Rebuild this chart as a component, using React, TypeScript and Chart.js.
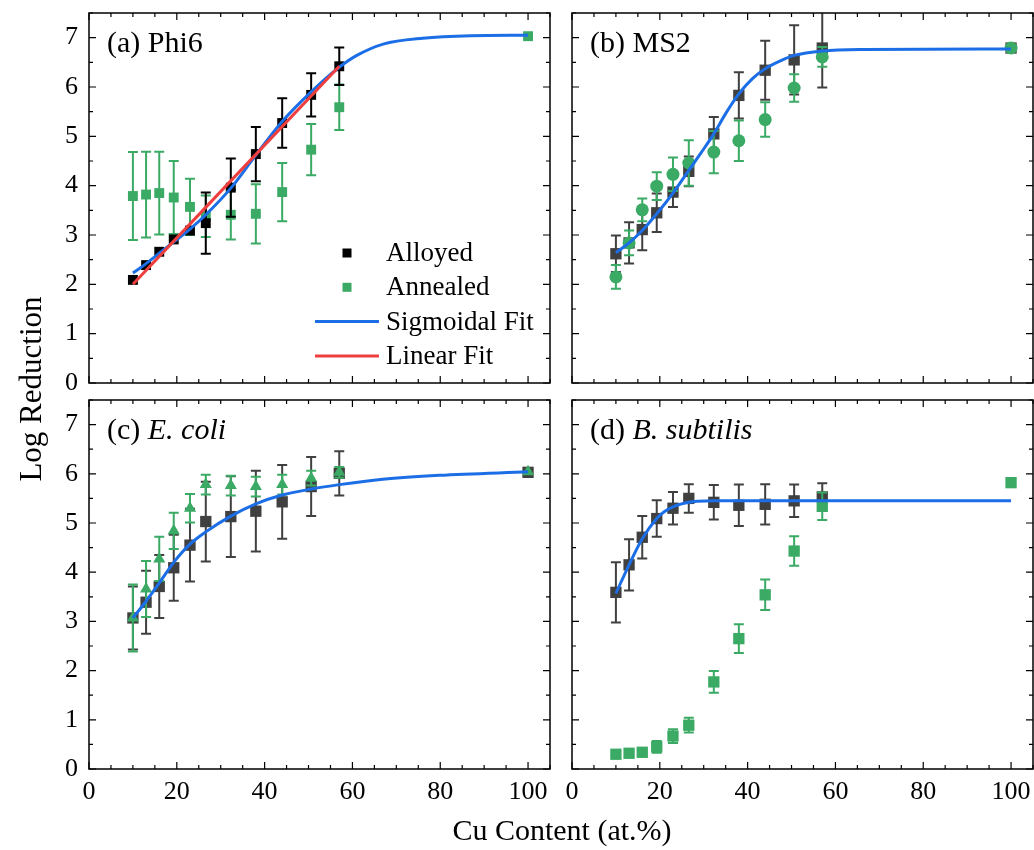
import React, { useEffect, useRef } from 'react';
import { Chart, registerables } from 'chart.js';

Chart.register(...registerables);

const FONT = '"Liberation Serif", "Times New Roman", serif';

// ---- axes ----
const X_TICKS = [0, 20, 40, 60, 80, 100];
const Y_TICKS = [0, 1, 2, 3, 4, 5, 6, 7];
const X_MIN = 0;
const X_MAX = 105;
const Y_MIN = 0;
const Y_MAX = 7.5;
const X_MINOR_STEP = 5;
const Y_MINOR_STEP = 0.5;

// ---- Cu content (at.%) ----
const CU = [10, 13, 16, 19.3, 23, 26.6, 32.3, 38, 44, 50.6, 57, 100];
const CU_NO100 = [10, 13, 16, 19.3, 23, 26.6, 32.3, 38, 44, 50.6, 57];

// ---- (a) Phi6 ----
const PHI6_ALLOYED = [2.09, 2.39, 2.66, 2.91, 3.09, 3.24, 3.96, 4.64, 5.27, 5.84, 6.42];
const PHI6_ALLOYED_ERR = [0, 0, 0, 0, 0, 0.62, 0.59, 0.55, 0.5, 0.44, 0.38];
const PHI6_ANNEALED = [3.79, 3.82, 3.85, 3.76, 3.57, 3.38, 3.41, 3.43, 3.87, 4.73, 5.59, 7.03];
const PHI6_ANNEALED_ERR = [0.89, 0.87, 0.84, 0.74, 0.57, 0.42, 0.5, 0.6, 0.59, 0.52, 0.46, 0];
const PHI6_SIG_X = [10, 13, 16, 19.3, 23, 26.6, 32.3, 38, 44, 50.6, 57, 61, 67, 76, 87, 100];
const PHI6_SIG_Y = [2.23, 2.42, 2.63, 2.86, 3.12, 3.41, 3.95, 4.62, 5.3, 5.9, 6.4, 6.64, 6.87, 6.99, 7.04, 7.05];
const PHI6_LIN_X = [10, 57];
const PHI6_LIN_Y = [2.0, 6.42];

// ---- (b) MS2 ----
const MS2_ALLOYED = [2.62, 2.84, 3.11, 3.45, 3.87, 4.29, 5.05, 5.83, 6.34, 6.55, 6.79, 6.79];
const MS2_ALLOYED_ERR = [0.37, 0.42, 0.42, 0.39, 0.3, 0.3, 0.34, 0.47, 0.6, 0.7, 0.8, 0];
const MS2_ANNEALED = [2.15, 2.84, 3.51, 3.99, 4.23, 4.46, 4.68, 4.91, 5.34, 5.98, 6.61, 6.79];
const MS2_ANNEALED_ERR = [0.24, 0.25, 0.23, 0.28, 0.34, 0.46, 0.43, 0.41, 0.35, 0.28, 0.2, 0];
const MS2_SIG_X = [10, 13, 16, 19.3, 23, 26.6, 29.5, 32.3, 35.2, 38, 41.1, 44, 47.7, 50.6, 57, 66.6, 100];
const MS2_SIG_Y = [2.64, 2.84, 3.09, 3.43, 3.85, 4.31, 4.68, 5.05, 5.49, 5.86, 6.17, 6.37, 6.54, 6.64, 6.73, 6.76, 6.77];

// ---- (c) E. coli ----
const ECOLI_ALLOYED = [3.07, 3.39, 3.71, 4.09, 4.55, 5.03, 5.13, 5.24, 5.43, 5.74, 6.01, 6.03];
const ECOLI_ALLOYED_ERR = [0.64, 0.64, 0.64, 0.67, 0.74, 0.81, 0.82, 0.82, 0.75, 0.6, 0.45, 0];
const ECOLI_ANNEALED = [3.07, 3.66, 4.27, 4.84, 5.3, 5.78, 5.76, 5.74, 5.78, 5.91, 6.03, 6.04];
const ECOLI_ANNEALED_ERR = [0.68, 0.57, 0.45, 0.37, 0.29, 0.2, 0.2, 0.2, 0.2, 0.15, 0.11, 0];
const ECOLI_SIG_X = [10, 13, 16, 19.3, 23, 26.6, 32.3, 38, 44, 50.6, 57, 66.9, 79.8, 100];
const ECOLI_SIG_Y = [3.07, 3.41, 3.78, 4.2, 4.57, 4.82, 5.14, 5.39, 5.57, 5.69, 5.78, 5.89, 5.97, 6.04];

// ---- (d) B. subtilis ----
const BSUB_ALLOYED = [3.59, 4.15, 4.71, 5.09, 5.3, 5.5, 5.42, 5.36, 5.38, 5.45, 5.53];
const BSUB_ALLOYED_ERR = [0.61, 0.52, 0.43, 0.37, 0.33, 0.29, 0.35, 0.42, 0.41, 0.33, 0.28];
const BSUB_ANNEALED = [0.3, 0.32, 0.34, 0.45, 0.67, 0.89, 1.77, 2.65, 3.54, 4.43, 5.34, 5.82];
const BSUB_ANNEALED_ERR = [0.03, 0.03, 0.04, 0.12, 0.14, 0.15, 0.22, 0.29, 0.31, 0.3, 0.28, 0];
const BSUB_SIG_X = [10, 13, 16, 19.3, 21, 23, 26.6, 28.5, 32.3, 100];
const BSUB_SIG_Y = [3.57, 4.15, 4.68, 5.09, 5.23, 5.33, 5.42, 5.44, 5.45, 5.45];

// ---- colours ----
const BLACK = '#000000';
const GRAY = '#404040';
const GREEN = '#3aaa64';
const BLUE = '#1b6ee6';
const RED = '#ee3e3e';

const pts = (xs: number[], ys: number[]) => xs.map((x, i) => ({ x, y: ys[i] }));

function markers(label: string, xs: number[], ys: number[], errs: number[], color: string, style: string, radius: number, order: number) {
  return {
    label,
    data: pts(xs, ys),
    showLine: false,
    pointStyle: style,
    pointRadius: radius,
    pointHoverRadius: radius,
    backgroundColor: color,
    borderColor: color,
    borderWidth: 0,
    errors: errs,
    errorColor: color,
    order,
  };
}

function fitLine(label: string, xs: number[], ys: number[], color: string, order: number) {
  return {
    label,
    data: pts(xs, ys),
    showLine: true,
    pointRadius: 0,
    pointHoverRadius: 0,
    borderColor: color,
    backgroundColor: color,
    borderWidth: 3,
    cubicInterpolationMode: 'monotone',
    fill: false,
    order,
  };
}

type Seg = { text: string; italic: boolean };
type PanelCfg = {
  left: number; top: number; width: number; height: number;
  showX: boolean; showY: boolean;
  label: Seg[];
  legend: boolean;
  datasets: any[];
};

const PANELS: PanelCfg[] = [
  {
    left: 89, top: 13, width: 461, height: 370, showX: false, showY: true, legend: true,
    label: [{ text: '(a) Phi6', italic: false }],
    datasets: [
      fitLine('Linear Fit', PHI6_LIN_X, PHI6_LIN_Y, RED, 0),
      fitLine('Sigmoidal Fit', PHI6_SIG_X, PHI6_SIG_Y, BLUE, 1),
      markers('Alloyed', CU_NO100, PHI6_ALLOYED, PHI6_ALLOYED_ERR, BLACK, 'rect', 7, 2),
      markers('Annealed', CU, PHI6_ANNEALED, PHI6_ANNEALED_ERR, GREEN, 'rect', 7, 3),
    ],
  },
  {
    left: 572, top: 13, width: 461, height: 370, showX: false, showY: false, legend: false,
    label: [{ text: '(b) MS2', italic: false }],
    datasets: [
      fitLine('Sigmoidal Fit', MS2_SIG_X, MS2_SIG_Y, BLUE, 0),
      markers('Annealed', CU, MS2_ANNEALED, MS2_ANNEALED_ERR, GREEN, 'circle', 6.5, 1),
      markers('Alloyed', CU, MS2_ALLOYED, MS2_ALLOYED_ERR, GRAY, 'rect', 8, 2),
    ],
  },
  {
    left: 89, top: 400, width: 461, height: 369, showX: true, showY: true, legend: false,
    label: [{ text: '(c) ', italic: false }, { text: 'E. coli', italic: true }],
    datasets: [
      fitLine('Sigmoidal Fit', ECOLI_SIG_X, ECOLI_SIG_Y, BLUE, 0),
      markers('Annealed', CU, ECOLI_ANNEALED, ECOLI_ANNEALED_ERR, GREEN, 'triangle', 7, 1),
      markers('Alloyed', CU, ECOLI_ALLOYED, ECOLI_ALLOYED_ERR, GRAY, 'rect', 8, 2),
    ],
  },
  {
    left: 572, top: 400, width: 461, height: 369, showX: true, showY: false, legend: false,
    label: [{ text: '(d) ', italic: false }, { text: 'B. subtilis', italic: true }],
    datasets: [
      fitLine('Sigmoidal Fit', BSUB_SIG_X, BSUB_SIG_Y, BLUE, 0),
      markers('Annealed', CU, BSUB_ANNEALED, BSUB_ANNEALED_ERR, GREEN, 'rect', 8, 1),
      markers('Alloyed', CU_NO100, BSUB_ALLOYED, BSUB_ALLOYED_ERR, GRAY, 'rect', 8, 2),
    ],
  },
];

const PAD_L = 80;
const PAD_T = 10;
const PAD_R = 1;
const PAD_B = 50;

function zeroPadding(s: any) {
  s.paddingTop = 0;
  s.paddingBottom = 0;
  s.paddingLeft = 0;
  s.paddingRight = 0;
}

function Panel({ cfg }: { cfg: PanelCfg }) {
  const ref = useRef<HTMLCanvasElement>(null);
  const W = cfg.width + PAD_L + PAD_R;
  const H = cfg.height + PAD_T + PAD_B;

  useEffect(() => {
    const errorBars = {
      id: 'errorBars',
      beforeDatasetDraw(chart: any, args: any) {
        const ds = chart.data.datasets[args.index];
        if (!ds.errors) return;
        const ys = chart.scales.y;
        const ctx = chart.ctx;
        const a = chart.chartArea;
        ctx.save();
        ctx.beginPath();
        ctx.rect(a.left, a.top, a.right - a.left, a.bottom - a.top);
        ctx.clip();
        ctx.strokeStyle = ds.errorColor;
        ctx.lineWidth = 2;
        args.meta.data.forEach((el: any, i: number) => {
          const e = ds.errors[i];
          if (!e) return;
          const v = ds.data[i].y;
          const yT = ys.getPixelForValue(v + e);
          const yB = ys.getPixelForValue(v - e);
          const x = el.x;
          ctx.beginPath();
          ctx.moveTo(x, yT); ctx.lineTo(x, yB);
          ctx.moveTo(x - 5, yT); ctx.lineTo(x + 5, yT);
          ctx.moveTo(x - 5, yB); ctx.lineTo(x + 5, yB);
          ctx.stroke();
        });
        ctx.restore();
      },
    };

    const frame = {
      id: 'frame',
      afterDraw(chart: any) {
        const ctx = chart.ctx;
        const a = chart.chartArea;
        const xs = chart.scales.x;
        const ys = chart.scales.y;
        ctx.save();
        ctx.strokeStyle = '#000';
        ctx.lineWidth = 1.2;
        for (let v = X_MIN; v <= X_MAX + 1e-9; v += X_MINOR_STEP) {
          const px = xs.getPixelForValue(v);
          const len = X_TICKS.includes(v) ? 7 : 4;
          ctx.beginPath();
          ctx.moveTo(px, a.bottom); ctx.lineTo(px, a.bottom - len);
          ctx.moveTo(px, a.top); ctx.lineTo(px, a.top + len);
          ctx.stroke();
        }
        for (let v = Y_MIN; v <= Y_MAX + 1e-9; v += Y_MINOR_STEP) {
          const py = ys.getPixelForValue(v);
          const len = Y_TICKS.includes(v) ? 7 : 4;
          ctx.beginPath();
          ctx.moveTo(a.left, py); ctx.lineTo(a.left + len, py);
          ctx.moveTo(a.right, py); ctx.lineTo(a.right - len, py);
          ctx.stroke();
        }
        ctx.lineWidth = 1.5;
        ctx.strokeRect(a.left, a.top, a.right - a.left, a.bottom - a.top);

        // panel label
        ctx.fillStyle = '#000';
        ctx.textBaseline = 'alphabetic';
        ctx.textAlign = 'left';
        let lx = a.left + 18;
        const ly = a.top + 39;
        for (const seg of cfg.label) {
          ctx.font = `${seg.italic ? 'italic ' : ''}30px ${FONT}`;
          ctx.fillText(seg.text, lx, ly);
          lx += ctx.measureText(seg.text).width;
        }

        // legend
        if (cfg.legend) {
          const order = ['Alloyed', 'Annealed', 'Sigmoidal Fit', 'Linear Fit'];
          ctx.font = `27px ${FONT}`;
          ctx.textBaseline = 'middle';
          order.forEach((name, i) => {
            const ds = chart.data.datasets.find((d: any) => d.label === name);
            if (!ds) return;
            const ry = a.top + 240 + i * 34.3;
            if (ds.showLine) {
              ctx.strokeStyle = ds.borderColor;
              ctx.lineWidth = 3;
              ctx.beginPath();
              ctx.moveTo(a.left + 226, ry); ctx.lineTo(a.left + 290, ry);
              ctx.stroke();
            } else {
              ctx.fillStyle = ds.backgroundColor;
              ctx.fillRect(a.left + 258 - 4.5, ry - 4.5, 9, 9);
            }
            ctx.fillStyle = '#000';
            ctx.fillText(name, a.left + 297, ry + 1);
          });
        }
        ctx.restore();
      },
    };

    const tickFont = { family: FONT, size: 26 };
    const chart = new Chart(ref.current as HTMLCanvasElement, {
      type: 'scatter',
      data: { datasets: cfg.datasets },
      options: {
        animation: false,
        responsive: false,
        devicePixelRatio: 1,
        events: [],
        layout: { autoPadding: false, padding: { left: 0, top: PAD_T, right: PAD_R, bottom: 0 } },
        plugins: { legend: { display: false }, tooltip: { enabled: false }, title: { display: false } },
        scales: {
          x: {
            type: 'linear',
            position: 'bottom',
            min: X_MIN,
            max: X_MAX,
            grid: { display: false, drawTicks: false },
            border: { display: false },
            ticks: { display: cfg.showX, font: tickFont, color: '#000', padding: 8, maxRotation: 0, autoSkip: false },
            afterBuildTicks: (s: any) => { s.ticks = X_TICKS.map((v) => ({ value: v })); },
            afterFit: (s: any) => { s.height = PAD_B; zeroPadding(s); },
          },
          y: {
            type: 'linear',
            position: 'left',
            min: Y_MIN,
            max: Y_MAX,
            grid: { display: false, drawTicks: false },
            border: { display: false },
            ticks: { display: cfg.showY, font: tickFont, color: '#000', padding: 11, autoSkip: false },
            afterBuildTicks: (s: any) => { s.ticks = Y_TICKS.map((v) => ({ value: v })); },
            afterFit: (s: any) => { s.width = PAD_L; zeroPadding(s); },
          },
        },
      } as any,
      plugins: [errorBars, frame],
    });
    return () => chart.destroy();
  }, []);

  return (
    <canvas
      ref={ref}
      width={W}
      height={H}
      style={{ position: 'absolute', left: cfg.left - PAD_L, top: cfg.top - PAD_T, width: W, height: H }}
    />
  );
}

export default function App() {
  return (
    <div style={{ position: 'absolute', left: 0, top: 0, width: 1034, height: 850, background: '#fff', overflow: 'hidden' }}>
      {PANELS.map((p, i) => (
        <Panel key={i} cfg={p} />
      ))}
      <div
        style={{
          position: 'absolute', left: 31 - 200, top: 389 - 20, width: 400, height: 40, lineHeight: '40px',
          textAlign: 'center', transform: 'rotate(-90deg)', fontFamily: FONT, fontSize: 31, color: '#000', whiteSpace: 'nowrap',
        }}
      >
        Log Reduction
      </div>
      <div
        style={{
          position: 'absolute', left: 562 - 200, top: 830 - 20, width: 400, height: 40, lineHeight: '40px',
          textAlign: 'center', fontFamily: FONT, fontSize: 30, color: '#000', whiteSpace: 'nowrap',
        }}
      >
        Cu Content (at.%)
      </div>
    </div>
  );
}
